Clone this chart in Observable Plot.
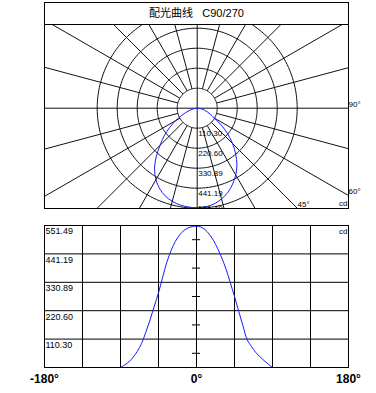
<!DOCTYPE html>
<html><head><meta charset="utf-8">
<script src="https://cdn.jsdelivr.net/npm/d3@7"></script>
<script src="https://cdn.jsdelivr.net/npm/@observablehq/plot@0.6"></script>
<style>
body{margin:0;background:#fff;}
#wrap{position:relative;width:376px;height:393px;overflow:hidden;}
#title{position:absolute;left:44px;top:2px;width:305px;height:22px;box-sizing:border-box;border:1px solid #000;border-bottom:none;background:#fff;text-align:center;font-family:"Liberation Sans","Noto Sans CJK SC",sans-serif;font-size:11px;line-height:21px;white-space:pre;color:#000;}
#polar{position:absolute;left:0;top:0;}
#linear{position:absolute;left:0;top:215px;}
</style></head><body>
<div id="wrap"><div id="polar"></div><div id="title"></div><div id="linear"></div></div>
<script>
// ---- data ----
const titleText = "配光曲线   C90/270";
const angles = [-90,-85,-80,-75,-70,-65,-60,-55,-50,-45,-40,-35,-30,-25,-20,-15,-10,-5,0,5,10,15,20,25,30,35,40,45,50,55,60,65,70,75,80,85,90];
const intensity = [0,10,22,40,63,94,137,185,238,290,352,410,455,490,515,532,542,547,549,546,536,518,494,462,425,382,330,276,218,162,108,82,59,42,27,13,0];
const ringValues = [110.30, 220.60, 330.89, 441.19, 551.49];
const ringLabels = ["110.30", "220.60", "330.89", "441.19", "551.49"];
const angleLabelAngles = [90, 60, 45];
const angleLabels = ["90°", "60°", "45°"];
const unitLabel = "cd";
const xGrid = [-135, -90, -45, 0, 45, 90, 135];
const xTicks = [-180, 0, 180];
const xTickLabels = ["-180°", "0°", "180°"];

document.getElementById("title").textContent = titleText;
const font = "'Liberation Sans', Arial, sans-serif";

// ---- polar panel ----
const W = 376, H1 = 215;
const maxV = ringValues[ringValues.length - 1];
const k = 100 / maxV; // px per cd
const cx = 196.7, cy = 107.7;
const mL = 44, mR = 28, mT = 24, mB = 7;
const xDom = [(mL - cx) / k, (W - mR - cx) / k];
const yDom = [-(H1 - mB - cy) / k, (cy - mT) / k];
const rad = d => d * Math.PI / 180;
const pt = (deg, v) => ({x: v * Math.sin(rad(deg)), y: -v * Math.cos(rad(deg))});

const circlePts = [];
ringValues.forEach((r, ri) => { for (let a = 0; a <= 360; a += 2) circlePts.push({...pt(a, r), ring: ri}); });
const spokes = d3.range(0, 360, 15).map(a => {
  const r0 = a % 90 === 0 ? 0 : ringValues[0];
  const p0 = pt(a, r0), p1 = pt(a, 4000);
  return {x1: p0.x, y1: p0.y, x2: p1.x, y2: p1.y};
});
const curvePts = angles.map((a, i) => pt(a, intensity[i]));
const angleLabelPts = angleLabelAngles.map((a, i) => {
  const s = Math.sin(rad(a)), c = Math.cos(rad(a));
  const r = Math.min(s > 1e-9 ? xDom[1] / s : Infinity, c > 1e-9 ? -yDom[0] / c : Infinity);
  return {...pt(a, r), label: angleLabels[i]};
});
const ringLabelData = ringValues.map((v, i) => ({v, label: ringLabels[i]}));

const polar = Plot.plot({
  width: W, height: H1,
  marginLeft: mL, marginRight: mR, marginTop: mT, marginBottom: mB,
  x: {domain: xDom, axis: null},
  y: {domain: yDom, axis: null},
  style: {fontFamily: font, background: "transparent"},
  marks: [
    Plot.line(circlePts, {x: "x", y: "y", z: "ring", stroke: "#111", strokeWidth: 1, clip: true}),
    Plot.link(spokes, {x1: "x1", y1: "y1", x2: "x2", y2: "y2", stroke: "#111", strokeWidth: 1, clip: true}),
    Plot.line(curvePts, {x: "x", y: "y", stroke: "#1a1aff", strokeWidth: 1, curve: "catmull-rom", clip: true}),
    Plot.text(ringLabelData.slice(0, -1), {x: 0, y: d => -d.v, text: "label", textAnchor: "start", dx: 1, dy: 5, fontSize: 8, fill: "#000", clip: true}),
    Plot.text(ringLabelData.slice(-1), {x: 0, y: d => -d.v, text: "label", textAnchor: "start", dx: 1, dy: 0.5, fontSize: 8, fill: "#000", clip: true}),
    Plot.text(angleLabelPts, {x: "x", y: "y", text: "label", textAnchor: "start", dx: 0, dy: -4, fontSize: 8, fill: "#000"}),
    Plot.text([unitLabel], {x: xDom[1], y: yDom[0], text: d => d, textAnchor: "end", dx: -1, dy: -5, fontSize: 8, fill: "#000"}),
    Plot.frame({stroke: "#000"})
  ]
});
document.getElementById("polar").append(polar);

// ---- linear panel ----
const midTicks = ringValues.map((v, i) => (v + (i ? ringValues[i - 1] : 0)) / 2);
const linData = angles.map((a, i) => ({a, v: intensity[i]}));
const linear = Plot.plot({
  width: W, height: 178,
  marginLeft: 44, marginRight: 28, marginTop: 10, marginBottom: 26,
  x: {domain: [-180, 180], axis: null},
  y: {domain: [0, maxV], axis: null},
  style: {fontFamily: font, background: "transparent"},
  marks: [
    Plot.ruleX(xGrid, {stroke: "#000", strokeWidth: 1}),
    Plot.ruleY(ringValues.slice(0, -1), {stroke: "#000", strokeWidth: 1}),
    Plot.ruleY(midTicks, {x1: -4.75, x2: 4.75, stroke: "#000", strokeWidth: 1}),
    Plot.line(linData, {x: "a", y: "v", stroke: "#1a1aff", strokeWidth: 1, curve: "catmull-rom"}),
    Plot.text(ringValues, {x: -180, y: d => d, text: (d, i) => ringLabels[i], textAnchor: "start", dx: 1, dy: 6, fontSize: 9, fill: "#000"}),
    Plot.text([unitLabel], {x: 180, y: maxV, text: d => d, textAnchor: "end", dx: -1, dy: 6, fontSize: 8, fill: "#000"}),
    Plot.text(xTicks, {x: d => d, y: 0, text: (d, i) => xTickLabels[i], dy: 12, fontSize: 12, fontWeight: "bold", fill: "#000"}),
    Plot.frame({stroke: "#000"})
  ]
});
document.getElementById("linear").append(linear);
</script>
</body></html>
